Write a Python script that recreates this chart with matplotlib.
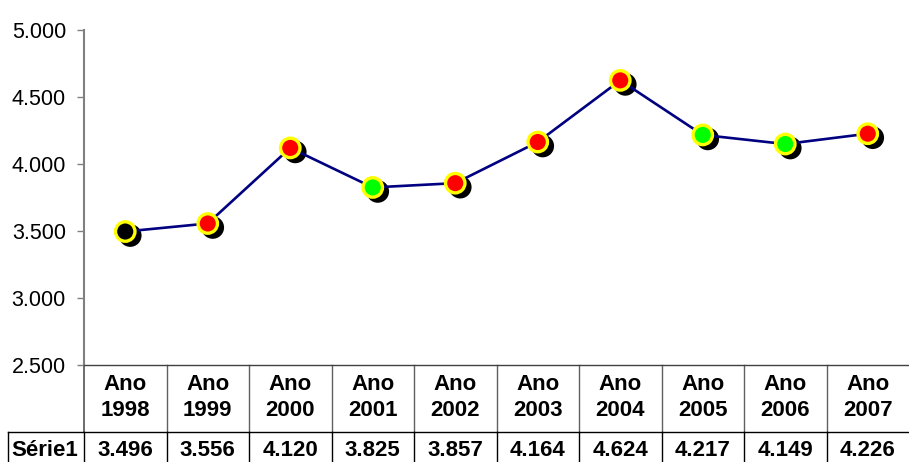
import matplotlib
matplotlib.use('Agg')
import matplotlib.pyplot as plt
import matplotlib.transforms as mtransforms
from matplotlib.lines import Line2D

anos = ['1998', '1999', '2000', '2001', '2002', '2003', '2004', '2005', '2006', '2007']
valores = [3496, 3556, 4120, 3825, 3857, 4164, 4624, 4217, 4149, 4226]
cores = ['#000000', '#FF0000', '#FF0000', '#00FF00', '#FF0000',
         '#FF0000', '#FF0000', '#00FF00', '#00FF00', '#FF0000']
nome_serie = 'Série1'
y_ticks = [2500, 3000, 3500, 4000, 4500, 5000]

plt.rcParams['font.family'] = ['Liberation Sans', 'DejaVu Sans']

W, H = 909, 462
fig = plt.figure(figsize=(W / 100, H / 100), dpi=100)
# área de plotagem em pixels: x 84..909, y 30..365
ax = fig.add_axes([84 / W, (H - 365) / H, (W - 84) / W, (365 - 30) / H])

x = list(range(len(valores)))

# sombra dos marcadores, deslocada para baixo e à direita
sombra = mtransforms.offset_copy(ax.transData, fig=fig, x=5, y=-4, units='dots')
ax.scatter(x, valores, s=16.3 ** 2, c='black', edgecolors='none',
           transform=sombra, zorder=2, clip_on=False)
ax.plot(x, valores, color='#000080', lw=1.9, zorder=3)
ax.scatter(x, valores, s=14.0 ** 2, c=cores, edgecolors='#FFFF00',
           linewidths=2.4, zorder=4, clip_on=False)

ax.set_xlim(-0.5, len(valores) - 0.5)
ax.set_ylim(2500, 5000)
ax.set_yticks(y_ticks)
ax.set_yticklabels([f'{v:,}'.replace(',', '.') for v in y_ticks], fontsize=15.5)
ax.set_xticks([])
ax.tick_params(axis='y', direction='out', length=5, width=1, color='#808080', pad=8)

for s in ['top', 'right']:
    ax.spines[s].set_visible(False)
ax.spines['left'].set_color('#808080')
ax.spines['left'].set_linewidth(1.5)
ax.spines['bottom'].set_color('#404040')
ax.spines['bottom'].set_linewidth(1)

# tabela de dados abaixo do eixo (em fração do eixo)
def fy(py):
    return -(py - 365) / 335.0

xt = ax.get_xaxis_transform()
for i, ano in enumerate(anos):
    ax.text(i, fy(385), 'Ano', transform=xt, ha='center', va='center',
            fontsize=16, fontweight='bold')
    ax.text(i, fy(411), ano, transform=xt, ha='center', va='center',
            fontsize=16, fontweight='bold')
    ax.text(i, fy(451), f'{valores[i]:,}'.replace(',', '.'), transform=xt,
            ha='center', va='center', fontsize=16, fontweight='bold')

# linhas verticais da tabela
for i in range(len(anos)):
    xv = i - 0.5
    ax.add_line(Line2D([xv, xv], [0, fy(432)], transform=xt, color='#606060',
                       lw=1.3 if i == 0 else 1, clip_on=False))
    ax.add_line(Line2D([xv, xv], [fy(432), fy(470)], transform=xt, color='black',
                       lw=1, clip_on=False))

# linha horizontal e caixa da série
fig.add_artist(Line2D([8 / W, 1], [(H - 432) / H] * 2, color='black', lw=1))
fig.add_artist(Line2D([8 / W, 8 / W], [(H - 432) / H, 0], color='black', lw=1))
fig.text(11 / W, (H - 451) / H, nome_serie, ha='left', va='center',
         fontsize=16, fontweight='bold')

fig.savefig('out.png', dpi=100)
